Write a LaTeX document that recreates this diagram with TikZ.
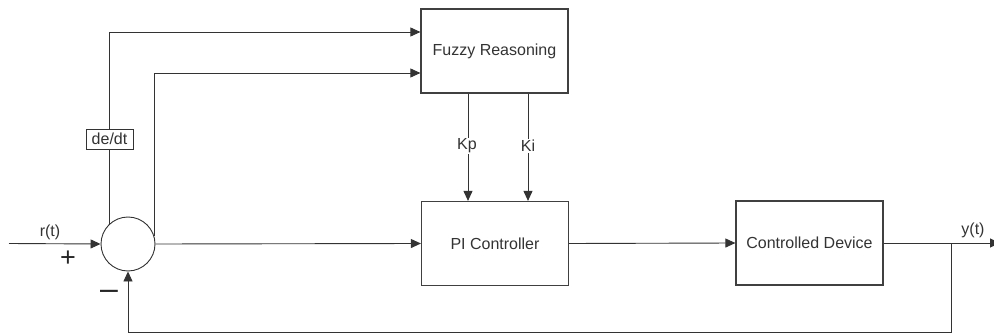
\documentclass[tikz,border=0pt]{standalone}
\usepackage{fontspec}
\setmainfont{Liberation Sans}
\usetikzlibrary{arrows.meta}
\begin{document}
\begin{tikzpicture}[x=1pt,y=-1pt,
  wire/.style={draw=black!80, line width=0.9pt},
  arr/.style={wire,-{Triangle[length=10pt,width=9pt]}},
  block/.style={draw=black!75, line width=1.2pt, minimum width=147pt,
    minimum height=84pt, inner sep=0pt, text=black!80,
    font=\fontsize{16}{19}\selectfont},
  lbl/.style={text=black!80, inner sep=1pt, font=\fontsize{16}{19}\selectfont},
  sign/.style={text=black!85, inner sep=0pt, font=\fontsize{27}{30}\selectfont},
]
\useasboundingbox (0,0) rectangle (994,334);

% blocks
\node[block] (fuzzy) at (494.5,51) {Fuzzy Reasoning};
\node[block] (pi)    at (495,243.5) {PI Controller};
\node[block] (cd)    at (809.5,243) {Controlled Device};
\node[draw=black!80, line width=0.9pt, circle, minimum size=54pt, inner sep=0pt] (sum) at (128,244) {};

% helper points
\coordinate (in)   at (9,243.5);
\coordinate (top1) at (0,32);
\coordinate (top2) at (0,73);
\coordinate (kpx)  at (468,0);
\coordinate (kix)  at (528,0);
\coordinate (br)   at (951,243);
\coordinate (yend) at (1000,243);
\coordinate (fb)   at (0,332);

% reference input
\draw[arr] (in) -- (sum.west);
\node[lbl] (r) at (50,232) {r(t)};
\node[sign] (plus) at (68,258.5) {+};
\node[sign, font=\fontsize{32}{34}\selectfont] (minus) at (109,295) {\textendash};

% error and its derivative into the fuzzy block
\draw[arr] (sum.132) |- (fuzzy.west |- top1);
\draw[arr] (sum.16) |- (fuzzy.west |- top2);
\node[draw=black!80, line width=0.9pt, fill=white, lbl, inner sep=0pt,
  minimum width=47pt, minimum height=20pt] (dedt) at (109.5,139) {de/dt};

% gains
\draw[arr] (fuzzy.south -| kpx) -- (pi.north -| kpx);
\draw[arr] (fuzzy.south -| kix) -- (pi.north -| kix);
\node[lbl, fill=white] (kp) at (467,146) {Kp};
\node[lbl, fill=white] (ki) at (528,146) {Ki};

% forward path
\draw[arr] (sum.east) -- (pi.west);
\draw[arr] (pi.east) -- (cd.west);
\draw[arr] (cd.east) -- (yend);
\node[lbl] (y) at (973,230) {y(t)};

% feedback
\draw[arr] (br) -- (br |- fb) -| (sum.south);
\end{tikzpicture}
\end{document}
